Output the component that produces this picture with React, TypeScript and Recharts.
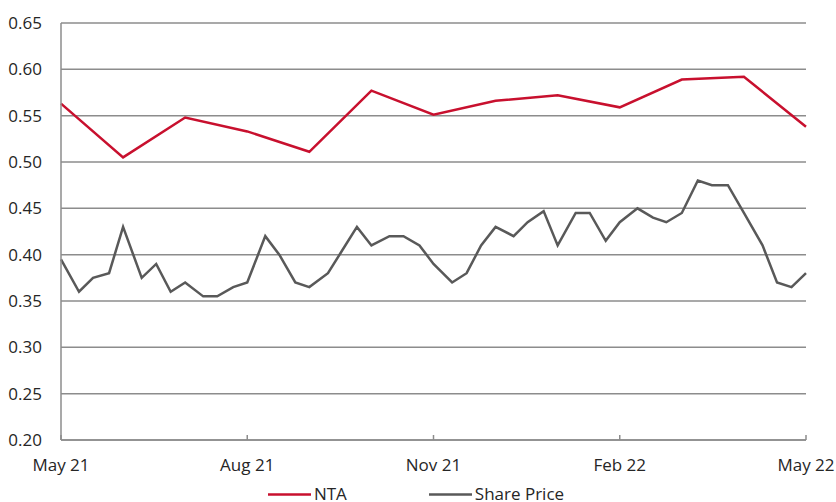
import React from 'react'
import { LineChart, Line, XAxis, YAxis, CartesianGrid, Legend } from 'recharts'

// month index 0 = May 21 ... 12 = May 22
const MONTH_LABELS = ['May 21', 'Jun 21', 'Jul 21', 'Aug 21', 'Sep 21', 'Oct 21', 'Nov 21', 'Dec 21', 'Jan 22', 'Feb 22', 'Mar 22', 'Apr 22', 'May 22']
const X_TICKS = [0, 3, 6, 9, 12]
const Y_TICKS = [0.2, 0.25, 0.3, 0.35, 0.4, 0.45, 0.5, 0.55, 0.6, 0.65]

const NTA_VALUES = [0.563, 0.505, 0.548, 0.533, 0.511, 0.577, 0.551, 0.566, 0.572, 0.559, 0.589, 0.592, 0.538]

const SHARE_DATES = [
  '2021-05-01', '2021-05-10', '2021-05-17', '2021-05-25',
  '2021-06-01', '2021-06-10', '2021-06-17', '2021-06-24',
  '2021-07-01', '2021-07-10', '2021-07-17', '2021-07-25',
  '2021-08-01', '2021-08-10', '2021-08-17', '2021-08-25',
  '2021-09-01', '2021-09-10', '2021-09-17', '2021-09-24',
  '2021-10-01', '2021-10-10', '2021-10-17', '2021-10-25',
  '2021-11-01', '2021-11-10', '2021-11-17', '2021-11-24',
  '2021-12-01', '2021-12-10', '2021-12-17', '2021-12-25',
  '2022-01-01', '2022-01-10', '2022-01-17', '2022-01-25',
  '2022-02-01', '2022-02-09', '2022-02-16', '2022-02-22',
  '2022-03-01', '2022-03-09', '2022-03-16', '2022-03-24',
  '2022-04-01', '2022-04-10', '2022-04-17', '2022-04-24',
  '2022-05-01',
]
const SHARE_VALUES = [
  0.395, 0.36, 0.375, 0.38,
  0.43, 0.375, 0.39, 0.36,
  0.37, 0.355, 0.355, 0.365,
  0.37, 0.42, 0.4, 0.37,
  0.365, 0.38, 0.405, 0.43,
  0.41, 0.42, 0.42, 0.41,
  0.39, 0.37, 0.38, 0.41,
  0.43, 0.42, 0.435, 0.447,
  0.41, 0.445, 0.445, 0.415,
  0.435, 0.45, 0.44, 0.435,
  0.445, 0.48, 0.475, 0.475,
  0.445, 0.41, 0.37, 0.365,
  0.38,
]

const NTA_COLOR = '#c8102e'
const SHARE_COLOR = '#595959'
const AXIS_COLOR = '#8c8c8c'
const TEXT_COLOR = '#262626'
const FONT = '"Open Sans", sans-serif'

// date -> fractional month position on the axis
const toMonthPos = (d: string) => {
  const [y, m, day] = d.split('-').map(Number)
  const idx = (y - 2021) * 12 + (m - 5)
  const daysInMonth = new Date(y, m, 0).getDate()
  return idx + (day - 1) / daysInMonth
}

const ntaData = NTA_VALUES.map((v, i) => ({ m: i, nta: v }))
const shareData = SHARE_DATES.map((d, i) => ({ m: toMonthPos(d), share: SHARE_VALUES[i] }))

const XTick = (props: any) => {
  const { x, y, payload } = props
  const axisY = y - 19
  return (
    <g>
      <line x1={x} x2={x} y1={axisY - 5} y2={axisY} stroke={AXIS_COLOR} strokeWidth={1.5} />
      <text x={x} y={y} dy="0.71em" textAnchor="middle" fill={TEXT_COLOR} fontSize={17} fontFamily={FONT}>
        {MONTH_LABELS[payload.value]}
      </text>
    </g>
  )
}

const LegendContent = () => {
  const items = [
    { name: 'NTA', color: NTA_COLOR },
    { name: 'Share Price', color: SHARE_COLOR },
  ]
  return (
    <div style={{ display: 'flex', justifyContent: 'center', gap: 82, height: 22, fontFamily: FONT, fontSize: 17, lineHeight: '22px', color: TEXT_COLOR, paddingLeft: 26 }}>
      {items.map(it => (
        <div key={it.name} style={{ display: 'flex', alignItems: 'center' }}>
          <svg width={43} height={22} style={{ marginRight: 3 }}>
            <line x1={0} x2={43} y1={11.5} y2={11.5} stroke={it.color} strokeWidth={2.5} />
          </svg>
          <span>{it.name}</span>
        </div>
      ))}
    </div>
  )
}

export default function App() {
  return (
    <div style={{ position: 'absolute', left: 0, top: 0, width: 836, height: 502, background: '#fff', overflow: 'hidden' }}>
      <LineChart width={836} height={502} margin={{ top: 23, right: 30, left: 0, bottom: 0 }}>
        <CartesianGrid vertical={false} stroke={AXIS_COLOR} strokeWidth={1.5} />
        <XAxis
          dataKey="m"
          type="number"
          domain={[0, 12]}
          ticks={X_TICKS}
          allowDuplicatedCategory={false}
          height={40}
          tickSize={6}
          tickMargin={13}
          tickLine={false}
          axisLine={{ stroke: AXIS_COLOR, strokeWidth: 1.5 }}
          tick={<XTick />}
        />
        <YAxis
          type="number"
          domain={[0.2, 0.65]}
          ticks={Y_TICKS}
          width={61}
          tickSize={6}
          tickMargin={13}
          tickLine={false}
          axisLine={{ stroke: AXIS_COLOR, strokeWidth: 1.5 }}
          tickFormatter={(v: number) => v.toFixed(2)}
          tick={{ fill: TEXT_COLOR, fontSize: 17, fontFamily: FONT }}
        />
        <Legend verticalAlign="bottom" content={<LegendContent />} wrapperStyle={{ top: 483, bottom: 'auto' }} />
        <Line data={ntaData} dataKey="nta" name="NTA" stroke={NTA_COLOR} strokeWidth={2.5} dot={false} activeDot={false} isAnimationActive={false} />
        <Line data={shareData} dataKey="share" name="Share Price" stroke={SHARE_COLOR} strokeWidth={2.5} dot={false} activeDot={false} isAnimationActive={false} />
      </LineChart>
    </div>
  )
}
